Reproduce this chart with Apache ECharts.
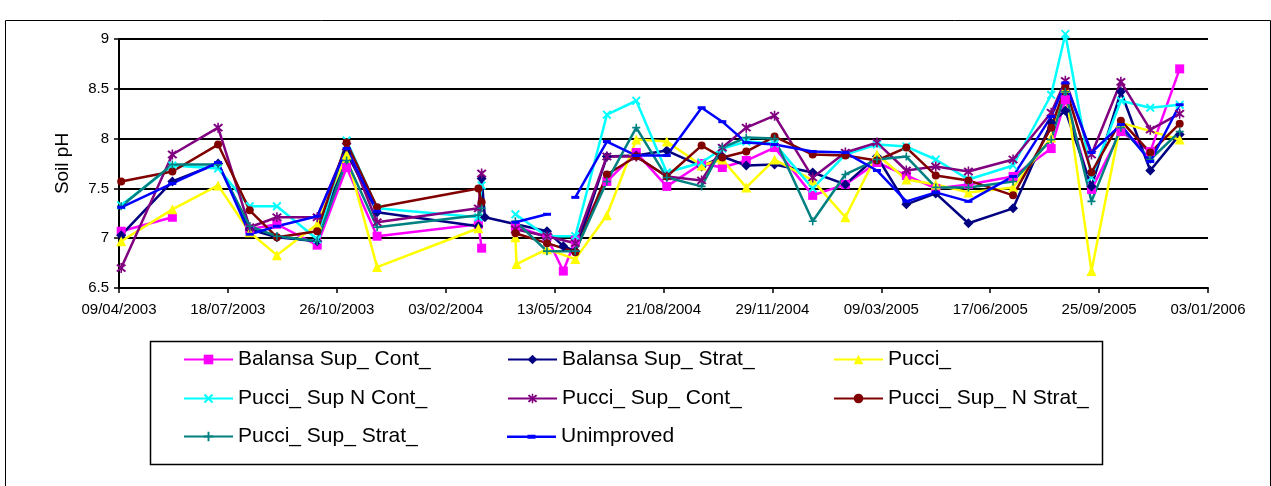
<!DOCTYPE html>
<html>
<head>
<meta charset="utf-8">
<title>Soil pH</title>
<script src="https://cdn.jsdelivr.net/npm/echarts@6/dist/echarts.min.js"></script>
<style>
  html, body { margin: 0; padding: 0; background: #fff; }
  #chart { width: 1271px; height: 486px; }
</style>
</head>
<body>
<div id="chart"></div>
<script>
// Sampling dates (shared by all treatments)
const sampleDates = [
  '2003-04-11', '2003-05-28', '2003-07-09', '2003-08-07', '2003-09-01', '2003-10-08',
  '2003-11-04', '2003-12-02', '2004-03-04', '2004-03-07', '2004-03-10', '2004-04-07',
  '2004-04-08', '2004-05-06', '2004-05-21', '2004-06-01', '2004-06-30', '2004-07-27',
  '2004-08-24', '2004-09-25', '2004-10-14', '2004-11-05', '2004-12-01', '2005-01-05',
  '2005-02-04', '2005-03-05', '2005-04-01', '2005-04-28', '2005-05-28', '2005-07-08',
  '2005-08-12', '2005-08-25', '2005-09-18', '2005-10-15', '2005-11-11', '2005-12-08'
];

// Soil pH per treatment, aligned with sampleDates.
// null = not sampled on that date (line runs past it); '-' = missing sample (line breaks)
const balansaSupCont = [7.07, 7.21, '-', 7.09, 7.14, 6.93, 7.71, 7.02, 7.14, 6.90, '-', 7.12, null, 7.01, 6.67, 6.98, 7.57, 7.86, 7.52, 7.75, 7.71, 7.78, 7.91, 7.43, 7.54, 7.76, 7.63, 7.50, 7.54, 7.62, 7.90, 8.39, 7.49, 8.07, 7.87, 8.70];
const balansaSupStrat = [7.03, 7.57, 7.75, 7.09, 7.01, 6.97, 7.86, 7.26, 7.12, 7.60, 7.21, null, null, 7.07, 6.92, 6.87, 7.82, 7.83, 7.88, 7.72, 7.82, 7.73, 7.74, 7.66, 7.54, 7.82, 7.34, 7.45, 7.15, 7.30, 8.16, 8.28, 7.52, 8.47, 7.68, 8.04];
const pucci = [6.97, 7.29, 7.53, 7.06, 6.83, 7.14, 7.84, 6.71, 7.10, '-', null, 7.01, 6.74, 6.89, null, 6.79, 7.23, 7.99, 7.97, 7.73, 7.79, 7.51, 7.79, 7.58, 7.21, 7.84, 7.59, 7.54, 7.46, 7.51, 8.01, 8.51, 6.67, 8.16, null, 7.99];
const pucciSupNCont = [7.33, 7.73, 7.70, 7.32, 7.32, 6.99, 7.98, 7.30, 7.21, 7.53, '-', 7.24, null, 7.02, null, 7.02, 8.24, 8.38, 7.66, 7.76, 7.90, 7.97, 7.95, 7.50, 7.84, 7.94, 7.92, 7.79, 7.59, 7.73, 8.44, 9.05, 7.61, 8.38, 8.31, 8.34];
const pucciSupCont = [6.70, 7.84, 8.11, 7.11, 7.21, 7.21, 7.92, 7.16, 7.30, 7.65, '-', 7.09, null, 7.02, null, 6.95, 7.82, 7.82, 7.62, 7.58, 7.91, 8.11, 8.23, 7.61, 7.86, 7.96, 7.68, 7.72, 7.67, 7.79, 8.26, 8.58, 7.84, 8.57, 8.09, 8.25];
const pucciSupNStrat = [7.57, 7.67, 7.94, 7.28, 7.01, 7.07, 7.96, 7.31, 7.50, 7.36, '-', 7.05, null, 6.95, null, 6.86, 7.64, 7.82, 7.62, 7.93, 7.81, 7.87, 8.02, 7.84, 7.83, 7.78, 7.91, 7.63, 7.58, 7.43, 8.11, 8.52, 7.66, 8.18, 7.86, 8.15];
const pucciSupStrat = [7.32, 7.74, 7.74, 7.12, 7.02, 6.97, 7.78, 7.11, 7.23, 7.30, '-', 7.17, null, 6.87, null, 6.87, 7.57, 8.11, 7.61, 7.52, 7.91, 8.01, 8.00, 7.17, 7.64, 7.79, 7.82, 7.51, 7.51, 7.57, 7.99, 8.47, 7.37, 8.11, 7.79, 8.07];
const unimproved = [7.31, 7.55, 7.76, 7.04, 7.12, 7.22, 7.90, 7.27, '-', null, null, 7.16, null, 7.24, '-', 7.41, 7.97, 7.83, 7.83, 8.31, 8.17, 7.96, 7.94, 7.87, 7.86, 7.68, 7.37, 7.46, 7.37, 7.62, 8.22, 8.56, 7.86, 8.14, 7.77, 8.34];

const seriesNames = [
  'Balansa Sup_ Cont_', 'Balansa Sup_ Strat_', 'Pucci_',
  'Pucci_ Sup N Cont_', 'Pucci_ Sup_ Cont_', 'Pucci_ Sup_ N Strat_',
  'Pucci_ Sup_ Strat_', 'Unimproved'
];

// Date axis: ticks every 100 days starting on the first label
const xTickLabels = [
  '09/04/2003', '18/07/2003', '26/10/2003', '03/02/2004', '13/05/2004', '21/08/2004',
  '29/11/2004', '09/03/2005', '17/06/2005', '25/09/2005', '03/01/2006'
];
const yTickLabels = ['6.5', '7', '7.5', '8', '8.5', '9'];

const FONT = '"Liberation Sans", Arial, sans-serif';
const DAY_MS = 86400000;
const originMs = Date.UTC(2003, 3, 9);
const tickStepDays = 100;

function dayOffset(iso) {
  const [y, m, d] = iso.split('-').map(Number);
  return Math.round((Date.UTC(y, m - 1, d) - originMs) / DAY_MS);
}

function toPoints(values) {
  const pts = [];
  values.forEach((v, i) => {
    if (v === null) return;
    pts.push([dayOffset(sampleDates[i]), v]);
  });
  return pts;
}

// Marker glyphs
const SYM_CROSS = 'path://M1.5,0 L5,3.5 L8.5,0 L10,1.5 L6.5,5 L10,8.5 L8.5,10 L5,6.5 L1.5,10 L0,8.5 L3.5,5 L0,1.5 Z';
const SYM_STAR = 'path://M1.5,0 L5,3.5 L8.5,0 L10,1.5 L6.5,5 L10,8.5 L8.5,10 L5,6.5 L1.5,10 L0,8.5 L3.5,5 L0,1.5 Z M4.2,-1 L5.8,-1 L5.8,11 L4.2,11 Z';
const SYM_PLUS = 'path://M4,0 L6,0 L6,4 L10,4 L10,6 L6,6 L6,10 L4,10 L4,6 L0,6 L0,4 L4,4 Z';
// legend glyph for the dash-marker series: line with a short thick bar in the middle
const LEGEND_DASH = 'path://M0,4 L49,4 L49,6.5 L0,6.5 Z M20.5,3.2 L28.5,3.2 L28.5,7.3 L20.5,7.3 Z M0,0 L0.01,0 L0.01,0.01 Z M0,10 L0.01,10 L0.01,10.01 Z';

const styles = [
  { color: '#FF00FF', symbol: 'rect', size: 9 },
  { color: '#000080', symbol: 'diamond', size: 10 },
  { color: '#FFFF00', symbol: 'triangle', size: 10 },
  { color: '#00FFFF', symbol: SYM_CROSS, size: 9 },
  { color: '#800080', symbol: SYM_STAR, size: 10 },
  { color: '#800000', symbol: 'circle', size: 8 },
  { color: '#008080', symbol: SYM_PLUS, size: 8 },
  { color: '#0000FF', symbol: 'rect', size: [8, 3] }
];

const seriesValues = [balansaSupCont, balansaSupStrat, pucci, pucciSupNCont,
  pucciSupCont, pucciSupNStrat, pucciSupStrat, unimproved];

const series = seriesValues.map((vals, i) => ({
  name: seriesNames[i],
  type: 'line',
  data: toPoints(vals),
  symbol: styles[i].symbol,
  symbolSize: styles[i].size,
  showSymbol: true,
  connectNulls: false,
  clip: i !== 3,
  lineStyle: { color: styles[i].color, width: 2.5 },
  itemStyle: { color: styles[i].color },
  emphasis: { disabled: true }
}));

const legendCols = [183, 507, 833];
const legendRows = [349, 388, 426];
const legends = seriesNames.map((n, i) => {
  const lg = {
    data: [n],
    left: legendCols[i % 3],
    top: legendRows[Math.floor(i / 3)],
    orient: 'horizontal',
    padding: 0,
    itemWidth: 49,
    itemHeight: 12,
    selectedMode: false,
    textStyle: { fontFamily: FONT, fontSize: 21, color: '#000' }
  };
  if (i === 7) lg.icon = LEGEND_DASH;
  return lg;
});

const chart = echarts.init(document.getElementById('chart'), null, { renderer: 'canvas' });
chart.setOption({
  animation: false,
  backgroundColor: '#fff',
  textStyle: { fontFamily: FONT },
  grid: { left: 119, right: 63, top: 39, bottom: 198, containLabel: false },
  xAxis: {
    type: 'value',
    min: 0,
    max: (xTickLabels.length - 1) * tickStepDays,
    interval: tickStepDays,
    splitLine: { show: false },
    axisLine: { lineStyle: { color: '#000', width: 2 } },
    axisTick: { show: true, length: 5, lineStyle: { color: '#000', width: 1.5 } },
    axisLabel: {
      color: '#000', fontSize: 15, fontFamily: FONT, margin: 14,
      formatter: v => xTickLabels[Math.round(v / tickStepDays)] || ''
    }
  },
  yAxis: {
    type: 'value',
    min: 6.5,
    max: 9,
    interval: 0.5,
    name: 'Soil pH',
    nameLocation: 'middle',
    nameRotate: 90,
    nameGap: 47,
    nameTextStyle: { color: '#000', fontSize: 19, fontFamily: FONT },
    splitLine: { show: true, lineStyle: { color: '#000', width: 2 } },
    axisLine: { show: true, lineStyle: { color: '#000', width: 2 } },
    axisTick: { show: true, length: 5, lineStyle: { color: '#000', width: 1.5 } },
    axisLabel: {
      color: '#000', fontSize: 15, fontFamily: FONT, margin: 10,
      formatter: v => yTickLabels[Math.round((v - 6.5) / 0.5)] || ''
    }
  },
  legend: legends,
  graphic: [
    { type: 'rect', left: 3, top: 18, silent: true,
      shape: { width: 1265, height: 480 },
      style: { fill: 'none', stroke: '#000', lineWidth: 1 } },
    { type: 'rect', left: 148, top: 339, silent: true,
      shape: { width: 952, height: 123 },
      style: { fill: 'none', stroke: '#000', lineWidth: 1.5 } }
  ],
  series: series
});
</script>
</body>
</html>
